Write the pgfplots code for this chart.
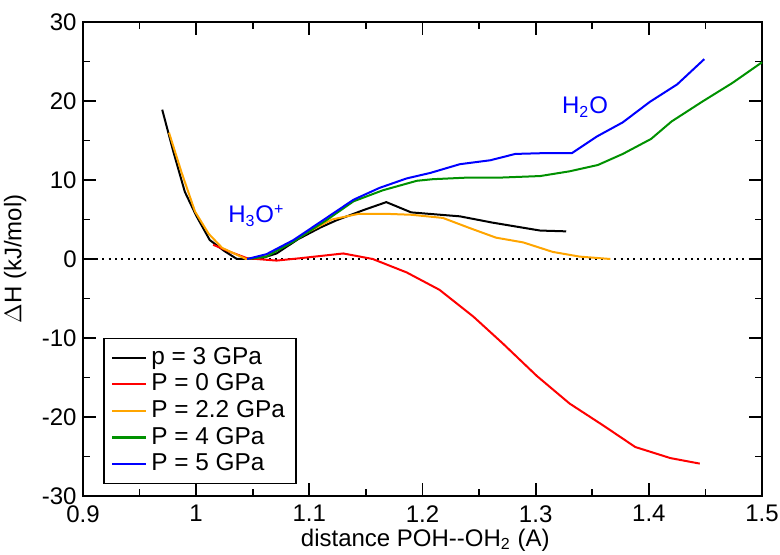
\documentclass[border=0pt]{standalone}
\usepackage{fontspec}
\setmainfont{Liberation Sans}
\usepackage{pgfplots}
\pgfplotsset{compat=1.18}
\definecolor{myorange}{RGB}{255,165,0}
\definecolor{mygreen}{RGB}{0,145,0}
\begin{document}
\fontsize{12pt}{14pt}\selectfont
\begin{tikzpicture}
\begin{axis}[
    scale only axis,
    width=339.5pt, height=237pt,
    xmin=0.9, xmax=1.5, ymin=-30, ymax=30,
    xtick={0.9,1,1.1,1.2,1.3,1.4,1.5},
    xticklabels={0.9,1,1.1,1.2,1.3,1.4,1.5},
    ytick={-30,-20,-10,0,10,20,30},
    yticklabels={-30,-20,-10,0,10,20,30},
    minor x tick num=1, minor y tick num=1,
    tick align=inside,
    major tick length=6.5pt, minor tick length=3.5pt,
    tick style={black, line width=0.9pt},
    axis line style={line width=1pt},
    xticklabel style={inner sep=0pt, yshift=-4.5pt},
    yticklabel style={inner sep=0pt, xshift=-3pt},
    tick label style={font=\fontsize{12pt}{14pt}\selectfont},
    label style={font=\fontsize{12pt}{14pt}\selectfont, inner sep=0pt},
    xlabel={distance POH{-}{-}OH\textsubscript{2} (A)},
    ylabel={$\Delta$H (kJ/mol)},
    xlabel style={at={(axis description cs:0.504,-0.093)}, anchor=center},
    ylabel style={at={(axis description cs:-0.1,0.5)}, anchor=center},
    legend style={at={(0.03,0.334)}, anchor=north west, draw=black, line width=0.6pt,
        font=\fontsize{12.2pt}{13pt}\selectfont, row sep=-1.0pt, inner xsep=3.5pt, inner ysep=2.5pt},
    legend cell align=left,
    legend image post style={line width=1.1pt},
    every axis plot/.append style={line width=1pt},
    clip=false,
]
\addplot[black, line width=1pt, dash pattern=on 1pt off 2.2pt, forget plot] coordinates {(0.9,0) (1.5,0)};

\addplot[black] coordinates {
(0.970,18.9) (0.980,13.5) (0.990,8.5) (1.000,5.5) (1.012,2.4) (1.025,1.0) (1.036,0.0)
(1.050,0.0) (1.060,0.2) (1.071,0.7) (1.090,2.5) (1.110,4.0) (1.124,4.9) (1.148,6.2)
(1.168,7.2) (1.190,5.9) (1.233,5.4) (1.262,4.6) (1.283,4.1) (1.304,3.6) (1.327,3.5)
};
\addlegendentry{p = 3 GPa}

\addplot[red] coordinates {
(1.015,1.8) (1.030,0.9) (1.045,0.1) (1.071,-0.2) (1.092,0.1) (1.130,0.7) (1.156,0.0)
(1.186,-1.7) (1.215,-3.9) (1.245,-7.3) (1.271,-10.7) (1.301,-14.8) (1.330,-18.3)
(1.360,-21.1) (1.388,-23.8) (1.419,-25.2) (1.445,-25.9)
};
\addlegendentry{P = 0 GPa}

\addplot[myorange] coordinates {
(0.976,16.0) (0.987,11.0) (0.999,6.0) (1.011,3.2) (1.023,1.4) (1.044,0.0) (1.060,0.3)
(1.080,1.8) (1.100,3.5) (1.120,5.0) (1.143,5.7) (1.171,5.7) (1.190,5.6) (1.218,5.2)
(1.242,3.9) (1.265,2.7) (1.289,2.1) (1.315,0.9) (1.339,0.3) (1.366,0.0)
};
\addlegendentry{P = 2.2 GPa}

\addplot[mygreen] coordinates {
(1.045,0.0) (1.062,0.3) (1.086,2.2) (1.115,4.9) (1.139,7.3) (1.165,8.7) (1.195,9.9)
(1.209,10.1) (1.239,10.3) (1.268,10.3) (1.304,10.5) (1.330,11.1) (1.355,11.9)
(1.377,13.3) (1.402,15.2) (1.420,17.4) (1.447,19.9) (1.474,22.3) (1.500,24.9)
};
\addlegendentry{P = 4 GPa}

\addplot[blue] coordinates {
(1.045,0.0) (1.062,0.6) (1.086,2.4) (1.112,4.9) (1.139,7.5) (1.162,9.0) (1.186,10.2)
(1.207,10.9) (1.233,12.0) (1.260,12.5) (1.282,13.3) (1.307,13.4) (1.332,13.4)
(1.354,15.5) (1.377,17.3) (1.401,19.9) (1.425,22.1) (1.449,25.3)
};
\addlegendentry{P = 5 GPa}

\node[anchor=base west, text=blue, inner sep=0pt] at (axis cs:1.028,4.56) {H\textsubscript{3}O\textsuperscript{+}};
\node[anchor=base west, text=blue, inner sep=0pt] at (axis cs:1.323,18.4) {H\textsubscript{2}O};
\end{axis}
\path (current axis.south west) ++(-41.5pt,-29.5pt) coordinate (bbA);
\path (current axis.north east) ++(9pt,11pt) coordinate (bbB);
\useasboundingbox (bbA) rectangle (bbB);
\end{tikzpicture}
\end{document}
